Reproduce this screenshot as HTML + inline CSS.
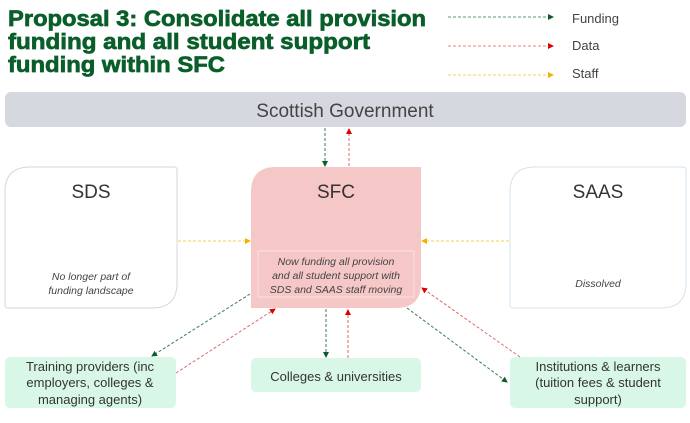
<!DOCTYPE html>
<html><head><meta charset="utf-8"><style>
html,body{margin:0;padding:0;background:#fff;}
svg{display:block;font-family:"Liberation Sans",sans-serif;}
</style></head><body>
<svg width="690" height="423" viewBox="0 0 690 423" xmlns="http://www.w3.org/2000/svg">
<defs>
<marker id="mg" markerWidth="6" markerHeight="6" refX="5" refY="3" orient="auto" markerUnits="userSpaceOnUse"><path d="M0,0 L6,3 L0,6z" fill="#0b5e2a"/></marker>
<marker id="mr" markerWidth="6" markerHeight="6" refX="5" refY="3" orient="auto" markerUnits="userSpaceOnUse"><path d="M0,0 L6,3 L0,6z" fill="#e00000"/></marker>
<marker id="my" markerWidth="6" markerHeight="6" refX="5" refY="3" orient="auto" markerUnits="userSpaceOnUse"><path d="M0,0 L6,3 L0,6z" fill="#f2b400"/></marker>
</defs>
<g fill="#0a5e2a" stroke="#0a5e2a" stroke-width="0.7" font-weight="bold" font-size="22">
<text x="8" y="26" textLength="418" lengthAdjust="spacingAndGlyphs">Proposal 3: Consolidate all provision</text>
<text x="8" y="49" textLength="362" lengthAdjust="spacingAndGlyphs">funding and all student support</text>
<text x="8" y="72" textLength="217" lengthAdjust="spacingAndGlyphs">funding within SFC</text>
</g>
<g stroke-width="1" stroke-dasharray="3,2" fill="none">
<line x1="448" y1="17" x2="553" y2="17" stroke="#5a9a6e" marker-end="url(#mg)"/>
<line x1="448" y1="46" x2="553" y2="46" stroke="#f08080" marker-end="url(#mr)"/>
<line x1="448" y1="75" x2="553" y2="75" stroke="#f5cf55" marker-end="url(#my)"/>
</g>
<g fill="#444" font-size="13"><text x="572" y="23">Funding</text><text x="572" y="50">Data</text><text x="572" y="78">Staff</text></g>
<rect x="5" y="92" width="681" height="35" rx="6" fill="#d5d9df"/>
<text x="345" y="117" text-anchor="middle" font-size="19" fill="#444">Scottish Government</text>
<path d="M30,167 H174 Q177,167 177,170 V283 Q177,308 152,308 H8 Q5,308 5,305 V192 Q5,167 30,167Z" fill="#fff" stroke="#d3d7e2"/>
<text x="91" y="198" text-anchor="middle" font-size="19" fill="#333">SDS</text>
<g font-size="10.5" font-style="italic" fill="#444" text-anchor="middle"><text x="91" y="280">No longer part of</text><text x="91" y="294">funding landscape</text></g>
<path d="M535,167 H683 Q686,167 686,170 V283 Q686,308 661,308 H513 Q510,308 510,305 V192 Q510,167 535,167Z" fill="#fff" stroke="#d6e3ef"/>
<text x="598" y="198" text-anchor="middle" font-size="19" fill="#333">SAAS</text>
<text x="598" y="287" text-anchor="middle" font-size="10.5" font-style="italic" fill="#444">Dissolved</text>
<path d="M276,167 H421 V283 Q421,308 396,308 H251 V192 Q251,167 276,167Z" fill="#f5c7c7"/>
<text x="336" y="198" text-anchor="middle" font-size="19" fill="#333">SFC</text>
<rect x="258" y="251" width="156" height="46" fill="none" stroke="#fbe3e3"/>
<g font-size="10.5" font-style="italic" fill="#444" text-anchor="middle"><text x="336" y="265">Now funding all provision</text><text x="336" y="279">and all student support with</text><text x="336" y="293">SDS and SAAS staff moving</text></g>
<g fill="#d9f7e6">
<rect x="5" y="357" width="171" height="51" rx="5"/>
<rect x="251" y="358" width="170" height="34" rx="5"/>
<rect x="510" y="357" width="176" height="51" rx="5"/>
</g>
<g font-size="13" fill="#333" text-anchor="middle">
<text x="90" y="371">Training providers (inc</text><text x="90" y="387">employers, colleges &amp;</text><text x="90" y="404">managing agents)</text>
<text x="336" y="381">Colleges &amp; universities</text>
<text x="598" y="371">Institutions &amp; learners</text><text x="598" y="387">(tuition fees &amp; student</text><text x="598" y="404">support)</text>
</g>
<g stroke-width="1" stroke-dasharray="3,2" fill="none">
<line x1="325" y1="128" x2="325" y2="166" stroke="#3c7a55" marker-end="url(#mg)"/>
<line x1="349" y1="166" x2="349" y2="129" stroke="#e06a6a" marker-end="url(#mr)"/>
<line x1="178" y1="241" x2="250" y2="241" stroke="#f5cf55" marker-end="url(#my)"/>
<line x1="509" y1="241" x2="422" y2="241" stroke="#f5cf55" marker-end="url(#my)"/>
<line x1="250" y1="294" x2="152" y2="356" stroke="#3c7a55" marker-end="url(#mg)"/>
<line x1="176" y1="373" x2="275" y2="309" stroke="#e06a6a" marker-end="url(#mr)"/>
<line x1="326" y1="309" x2="326" y2="357" stroke="#3c7a55" marker-end="url(#mg)"/>
<line x1="348" y1="358" x2="348" y2="310" stroke="#e06a6a" marker-end="url(#mr)"/>
<line x1="407" y1="308" x2="507" y2="382" stroke="#3c7a55" marker-end="url(#mg)"/>
<line x1="520" y1="357" x2="422" y2="288" stroke="#e06a6a" marker-end="url(#mr)"/>
</g>
</svg>
</body></html>
